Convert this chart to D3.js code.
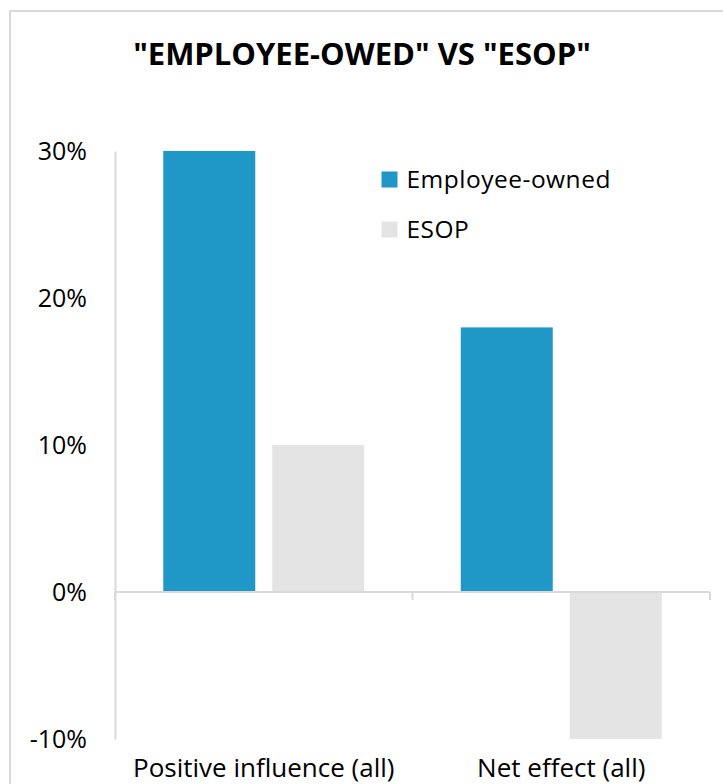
<!DOCTYPE html>
<html>
<head>
<meta charset="utf-8">
<script src="https://cdn.jsdelivr.net/npm/d3@7"></script>
<style>
  html, body { margin: 0; padding: 0; background: #fff; overflow: hidden; }
  text { font-family: "Open Sans", Lato, sans-serif; fill: #000; }
</style>
</head>
<body>
<svg id="chart" width="723" height="784"></svg>
<script>
const title = '"EMPLOYEE-OWED" VS "ESOP"';
const categories = ["Positive influence (all)", "Net effect (all)"];
const seriesNames = ["Employee-owned", "ESOP"];
const employeeOwned = [0.30, 0.18];
const esop = [0.10, -0.10];
const tickValues = [-0.10, 0, 0.10, 0.20, 0.30];
const colors = ["#1f98c8", "#e4e4e4"];

const seriesValues = [employeeOwned, esop];
const data = categories.map((c, i) => ({
  category: c,
  values: seriesNames.map((s, j) => ({ series: s, value: seriesValues[j][i] }))
}));

const svg = d3.select("#chart");

// outer border (extends beyond the visible area on right/bottom)
svg.append("rect")
  .attr("x", 10).attr("y", 11)
  .attr("width", 800).attr("height", 800)
  .attr("fill", "none").attr("stroke", "#d9d9d9").attr("stroke-width", 2);

const plotLeft = 115, plotRight = 710, plotTop = 151, plotBottom = 739;

const x0 = d3.scaleBand().domain(categories).range([plotLeft, plotRight]).padding(0);
const x1 = d3.scaleBand().domain(seriesNames).range([0, x0.bandwidth()])
  .paddingInner(0.156).paddingOuter(0.443);
const y = d3.scaleLinear().domain([-0.10, 0.30]).range([plotBottom, plotTop]);
const color = d3.scaleOrdinal().domain(seriesNames).range(colors);

// title
svg.append("text")
  .attr("x", 362).attr("y", 65)
  .attr("text-anchor", "middle")
  .style("font-weight", "bold").style("font-size", "31px")
  .text(title);

// bars
const groups = svg.append("g").selectAll("g").data(data).join("g")
  .attr("transform", d => `translate(${x0(d.category)},0)`);
groups.selectAll("rect").data(d => d.values).join("rect")
  .attr("x", d => x1(d.series))
  .attr("width", x1.bandwidth())
  .attr("y", d => y(Math.max(0, d.value)))
  .attr("height", d => Math.abs(y(d.value) - y(0)))
  .attr("fill", d => color(d.series));

// y axis
const pct = d3.format(".0%");
const yAxis = d3.axisLeft(y).tickValues(tickValues)
  .tickFormat(d => pct(d).replace("\u2212", "-"))
  .tickSize(0).tickPadding(28);
const gy = svg.append("g").attr("transform", `translate(${plotLeft},0)`).call(yAxis);
gy.select(".domain").attr("stroke", "#d9d9d9").attr("stroke-width", 2);
gy.selectAll("text").style("font-size", "25px").style("font-family", '"Open Sans", Lato, sans-serif').attr("fill", "#000");

// x axis at zero
const xAxis = d3.axisBottom(x0).tickSize(0).tickFormat("");
const gx = svg.append("g").attr("transform", `translate(0,${y(0)})`).call(xAxis);
gx.select(".domain").attr("stroke", "#d9d9d9").attr("stroke-width", 2).attr("d", `M${plotLeft},0H${plotRight}`);
gx.selectAll(".tick").remove();
// category boundary tick marks
const boundaries = categories.map(c => x0(c) + x0.bandwidth()).concat([plotLeft]);
gx.selectAll("line.bound").data(boundaries).join("line")
  .attr("class", "bound")
  .attr("x1", d => d).attr("x2", d => d)
  .attr("y1", 0).attr("y2", 8)
  .attr("stroke", "#d9d9d9").attr("stroke-width", 2);

// category labels at bottom
svg.append("g").selectAll("text").data(categories).join("text")
  .attr("x", d => x0(d) + x0.bandwidth() / 2)
  .attr("y", 777)
  .attr("text-anchor", "middle")
  .style("font-size", "26px")
  .text(d => d);

// legend
const legend = svg.append("g").selectAll("g").data(seriesNames).join("g")
  .attr("transform", (d, i) => `translate(381.5,${171.5 + i * 50})`);
legend.append("rect").attr("width", 16).attr("height", 16).attr("fill", d => color(d));
legend.append("text").attr("x", 25).attr("y", 16.5)
  .style("font-size", "24.5px").style("letter-spacing", "0.5px")
  .text(d => d);
</script>
</body>
</html>
